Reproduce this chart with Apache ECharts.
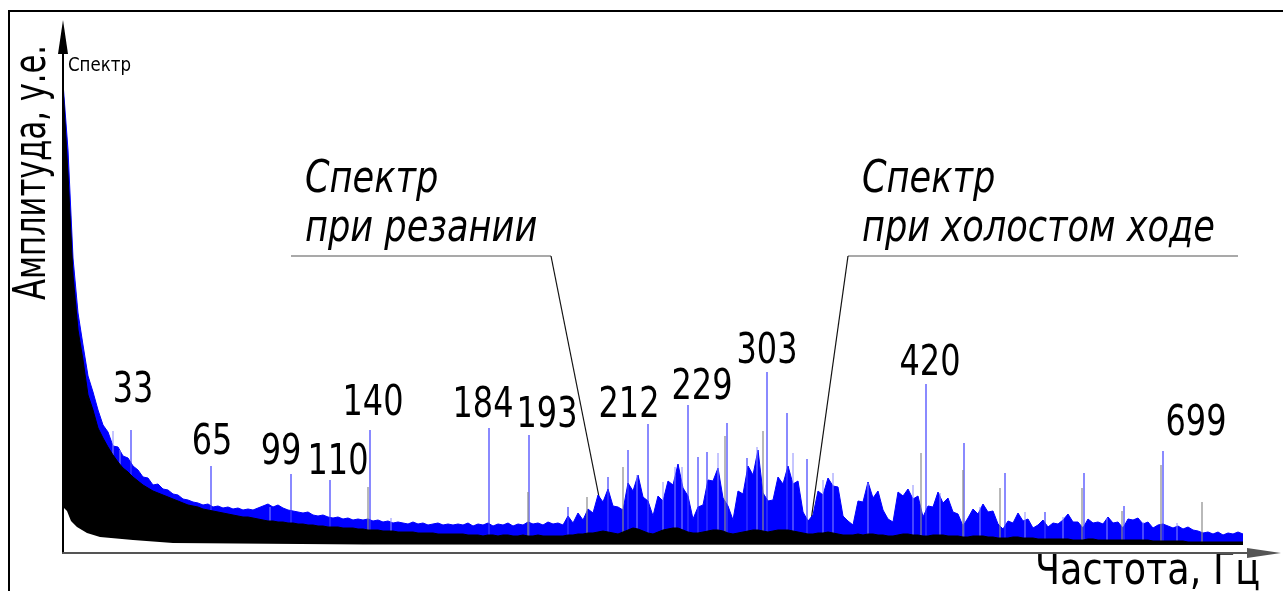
<!DOCTYPE html>
<html>
<head>
<meta charset="utf-8">
<script src="https://cdn.jsdelivr.net/npm/echarts@6/dist/echarts.min.js"></script>
<style>
  html, body { margin: 0; padding: 0; background: #fff; }
  #chart { width: 1283px; height: 591px; }
</style>
</head>
<body>
<div id="chart"></div>
<script>
// ---- spectrum data (amplitude in arbitrary units, x in spectrum bins) ----
const STEP = 5; // spacing of the envelope samples, bins

// upper envelope of the spectrum while cutting
const cutTop = [
  94, 80.6, 59, 48, 41.6, 35.4, 32.2, 28.6, 25.6, 24.2, 21.4, 21.2, 19.4, 19, 17.4, 16.6, 15.2, 15, 13.6, 13.8,
  12.8, 12.6, 11.8, 11.6, 10.8, 10.6, 10.2, 10, 9.6, 9.8, 9.2, 9.4, 9, 9.2, 8.8, 9, 8.6, 8.8, 8.6, 9,
  9.4, 9.8, 9.2, 9.6, 9, 8.6, 8.4, 8.2, 8, 8.2, 7.6, 7.4, 7.6, 7.2, 7, 7.2, 6.8, 7, 6.6, 6.8,
  6.6, 6.8, 6.4, 6.6, 6.2, 6.4, 6, 6.2, 6, 5.8, 6.2, 5.8, 6, 5.6, 5.8, 6, 5.6, 5.8, 5.6, 5.8,
  5.6, 6, 5.4, 5.8, 5.6, 6, 5.4, 5.8, 5.6, 6, 5.4, 5.8, 5.6, 6.2, 5.8, 6, 5.6, 6.2, 5.8, 6,
  5.6, 7.4, 6, 8, 6.6, 8.8, 8, 11.6, 10.2, 12.8, 9.4, 9.2, 8.6, 14, 12.4, 15.6, 11.2, 10.4, 7.4, 11.4,
  10.4, 14.4, 13.6, 17.8, 13, 11.4, 6.8, 9.2, 9.6, 14.6, 14.4, 17, 11, 9.4, 6.6, 12.4, 11.8, 17.4, 15.6, 20.6,
  12, 10.4, 10.6, 15.2, 13.8, 17.4, 13.8, 14.4, 8.2, 6.4, 7.6, 12.4, 11.6, 15, 13.4, 13.2, 7.4, 6.4, 5.6, 10.4,
  10.2, 14.2, 11, 12.4, 8.6, 6.8, 6.2, 12.2, 11.4, 12.8, 10.8, 11.4, 7.2, 9.4, 9.2, 12.2, 10, 11, 8.2, 7.8,
  5.4, 7, 8.8, 7.8, 9.8, 8.2, 8.4, 5.8, 4.8, 6.4, 6, 8, 6.4, 6.8, 5, 5.6, 6.6, 5.2, 6, 5.8,
  6.6, 7.8, 6.2, 6.2, 5, 6.8, 6, 6.2, 5.8, 7.2, 6, 6.2, 5, 6.8, 6.6, 7, 5.8, 6.2, 5, 5.6,
  5.8, 5.4, 5, 5.4, 4.8, 5.2, 4.6, 4.4, 4, 4.2, 3.8, 4.2, 3.6, 4, 3.8, 4.2, 3.8
];

// upper envelope of the spectrum at idle run
const idleTop = [
  93.2, 75.6, 55.6, 44.6, 38.6, 31.6, 28.6, 25, 23, 21.2, 19.6, 18.2, 17, 16.2, 15.2, 14.4, 13.6, 13, 12.4, 12,
  11.6, 11.2, 10.8, 10.4, 10, 9.6, 9.4, 9.2, 8.8, 8.6, 8.4, 8.2, 8, 7.8, 7.6, 7.4, 7.2, 7.2, 7, 6.8,
  6.6, 6.4, 6.4, 6.2, 6.2, 6, 6, 5.8, 5.8, 5.6, 5.6, 5.4, 5.4, 5.2, 5.2, 5.2, 5, 5, 5, 4.8,
  4.8, 4.6, 4.6, 4.6, 4.4, 4.4, 4.4, 4.2, 4.2, 4.2, 4.2, 4, 4, 4, 4, 3.8, 3.8, 3.8, 3.8, 3.8,
  3.8, 3.6, 3.6, 3.6, 3.4, 3.6, 3.6, 3.4, 3.6, 3.6, 3.4, 3.4, 3.6, 3.4, 3.4, 3.6, 3.4, 3.4, 3.4, 3.4,
  3.4, 3.6, 3.6, 3.8, 3.8, 4, 4, 4.2, 4.4, 4.2, 4, 3.8, 4.2, 4.6, 5, 4.8, 4.4, 4, 3.8, 4.2,
  4.6, 4.8, 5, 5, 4.6, 4.2, 4, 4, 4.2, 4.4, 4.6, 4.6, 4.4, 4, 3.8, 4, 4.2, 4.4, 4.6, 4.6,
  4.4, 4.2, 4.4, 4.6, 4.6, 4.6, 4.4, 4.2, 4, 3.8, 3.8, 4, 4, 4.2, 4, 3.8, 3.6, 3.6, 3.6, 3.8,
  3.6, 3.8, 3.8, 3.6, 3.6, 3.4, 3.4, 3.6, 3.8, 3.8, 3.6, 3.6, 3.4, 3.4, 3.6, 3.6, 3.6, 3.4, 3.4, 3.4,
  3.2, 3.2, 3.4, 3.4, 3.4, 3.2, 3.2, 3, 3, 3, 3.2, 3.2, 3, 3, 3, 2.8, 2.8, 2.8, 2.8, 2.8,
  2.8, 2.8, 2.6, 2.6, 2.6, 2.8, 2.8, 2.6, 2.6, 2.6, 2.6, 2.6, 2.6, 2.6, 2.6, 2.6, 2.6, 2.6, 2.4, 2.4,
  2.4, 2.4, 2.4, 2.4, 2.4, 2.2, 2.2, 2.2, 2.2, 2.2, 2.2, 2.2, 2.2, 2.2, 2.2, 2.2, 2.2
];

// lower envelope (noise floor) shared by both spectra
const floorBins = [0, 4, 8, 14, 24, 37, 70, 110, 300, 1180];
const floorAmp  = [9.2, 8.4, 6.4, 5.2, 4, 3.2, 2.6, 2, 1.7, 1.6];

// discrete harmonic lines while cutting
const cutLineBins = [68, 148, 228, 267, 307, 426, 466, 505, 545, 565, 585, 625, 635, 644, 664, 684, 704, 724, 744, 863, 901, 942, 982, 1021, 1061, 1100];
const cutLineAmp  = [24.6, 17.4, 15.8, 14.6, 24.6, 25, 23.6, 9.2, 15.2, 20.6, 25.8, 29.6, 19.2, 20.2, 26, 19, 36.2, 28, 18.8, 33.8, 22, 16, 8.2, 16, 9.4, 20.4];
const cutLineName = ['33', '65', '99', '110', '140', '184', '193', '', '', '', '212', '229', '', '', '', '', '303', '', '', '420', '', '', '', '', '', '699'];

// weaker lines standing out of the cutting noise
const cutHairBins = [50, 57, 207, 328, 574, 600, 612, 619, 655, 694, 730, 760, 770, 805, 850, 877, 917, 962, 1000, 1044, 1080, 1114];
const cutHairAmp  = [24.4, 20.6, 9.2, 7, 15.6, 14.2, 17.2, 17.2, 20, 21.2, 20, 14.6, 16, 14, 13.6, 12, 9.2, 8.2, 7.2, 7, 6.2, 6];

// discrete harmonic lines at idle run
const idleLineBins = [305, 465, 524, 560, 662, 700, 858, 900, 937, 1019, 1059, 1098, 1139];
const idleLineAmp  = [13.2, 12.2, 11.2, 17.2, 23.4, 24.4, 20, 16.6, 13, 13, 8.4, 17.6, 10.2];

// call-out captions and the spectrum points they point at
const calloutText = ['Спектр\nпри резании', 'Спектр\nпри холостом ходе'];
const calloutAt   = [[539, 8.2], [747, 5]];

const axisNameY = 'Амплитуда, у.е.';
const axisNameX = 'Частота, Гц';
const axisTag   = 'Спектр';

// ---- styling ----
const FONT = '"DejaVu Sans Condensed", "DejaVu Sans", sans-serif';
const BLUE = '#0000ff';
const LINE_BASE = 1.6;
// caption placement relative to the top of its line: [dx, dy] in px
const labelShift = {
  '33': [2, -18], '65': [1, -2], '99': [-10, 0], '110': [8, 4], '140': [3, -5],
  '184': [-6, -1], '193': [18, 2], '212': [-19, 3], '229': [14, 4], '303': [0, 1],
  '420': [4, 1], '699': [33, -6]
};

// horizontal squeeze so a text run spans the wanted width (drawing-type lettering is narrow)
const measureCtx = document.createElement('canvas').getContext('2d');
function squeeze(text, font, width) {
  measureCtx.font = font;
  return width / measureCtx.measureText(text).width;
}

const CAPTION_FONT = '42px ' + FONT;
const CAPTION_SX = squeeze('303', CAPTION_FONT, 61);

const env = (vals) => vals.map((v, i) => [i * STEP, v]);
const captionItems = cutLineBins
  .map((b, i) => ({ value: [b, cutLineAmp[i]], name: cutLineName[i] }))
  .filter(d => d.name);

function lineSeries(bins, amps, color, width, z) {
  return {
    type: 'custom', z, silent: true,
    data: bins.map((b, i) => [b, amps[i]]),
    renderItem(params, api) {
      const top = api.coord([api.value(0), api.value(1)]);
      const bot = api.coord([api.value(0), LINE_BASE]);
      return {
        type: 'line',
        shape: { x1: top[0], y1: top[1], x2: bot[0], y2: bot[1] },
        style: { stroke: color, lineWidth: width }
      };
    }
  };
}

const chart = echarts.init(document.getElementById('chart'), null, { renderer: 'canvas' });

chart.setOption({
  animation: false,
  backgroundColor: '#fff',
  grid: { left: 63, right: 19, top: 37, bottom: 38 },
  xAxis: {
    type: 'value', min: 0, max: 1201, z: 10,
    axisLine: { show: true, symbol: ['none', 'triangle'], symbolSize: [10, 34],
      lineStyle: { color: '#555', width: 2 } },
    axisTick: { show: false }, axisLabel: { show: false }, splitLine: { show: false }
  },
  yAxis: {
    type: 'value', min: 0, max: 103.2, z: 10,
    axisLine: { show: true, symbol: ['none', 'triangle'], symbolSize: [10, 34],
      lineStyle: { color: '#000', width: 2 } },
    axisTick: { show: false }, axisLabel: { show: false }, splitLine: { show: false }
  },
  series: [
    {
      name: 'cut', type: 'line', z: 2, showSymbol: false, symbol: 'none',
      data: env(cutTop),
      lineStyle: { color: BLUE, width: 1 },
      areaStyle: { color: BLUE, opacity: 1 }
    },
    lineSeries(cutHairBins, cutHairAmp, '#8c8cff', 1, 3),
    lineSeries(cutLineBins, cutLineAmp, '#3c3cff', 1.2, 3),
    lineSeries(idleLineBins, idleLineAmp, '#8a8a8a', 1.2, 3),
    {
      name: 'idle', type: 'line', z: 4, showSymbol: false, symbol: 'none',
      data: env(idleTop),
      lineStyle: { color: '#000', width: 1 },
      areaStyle: { color: '#000', opacity: 1 }
    },
    {
      name: 'floor', type: 'line', z: 5, showSymbol: false, symbol: 'none',
      data: floorBins.map((b, i) => [b, floorAmp[i]]),
      lineStyle: { width: 0, opacity: 0 },
      areaStyle: { color: '#fff', opacity: 1 }
    },
    {
      name: 'captions', type: 'custom', z: 6, silent: true,
      data: captionItems,
      renderItem(params, api) {
        const name = captionItems[params.dataIndex].name;
        const p = api.coord([api.value(0), api.value(1)]);
        const s = labelShift[name] || [0, 0];
        return {
          type: 'text', x: p[0] + s[0], y: p[1] + s[1], scaleX: CAPTION_SX,
          style: { text: name, font: CAPTION_FONT, fill: '#000', align: 'center', verticalAlign: 'bottom' }
        };
      }
    }
  ]
});

// call-outs, axis captions and frame
const anchor = calloutAt.map(p => chart.convertToPixel({ gridIndex: 0 }, p));
const shelf = [[291, 551], [848, 1238]];
const NOTE_FONT = 'italic 44px ' + FONT;
const NOTE_SX = squeeze('при холостом ходе', NOTE_FONT, 353);
const YNAME_FONT = '44px ' + FONT;
const XNAME_FONT = '44px ' + FONT;
const TAG_FONT = '20px ' + FONT;

const graphic = [
  { type: 'polyline', shape: { points: [[9, 591], [9, 11], [1283, 11]] },
    style: { stroke: '#000', lineWidth: 2, fill: null } },
  { type: 'text', x: 12, y: 300, rotation: Math.PI / 2, scaleX: squeeze(axisNameY, YNAME_FONT, 255),
    style: { text: axisNameY, font: YNAME_FONT, fill: '#000', align: 'left', verticalAlign: 'top' } },
  { type: 'text', x: 68, y: 56, scaleX: squeeze(axisTag, TAG_FONT, 63),
    style: { text: axisTag, font: TAG_FONT, fill: '#000', align: 'left', verticalAlign: 'top' } },
  { type: 'text', x: 1035, y: 551, scaleX: squeeze(axisNameX, XNAME_FONT, 225),
    style: { text: axisNameX, font: XNAME_FONT, fill: '#000', align: 'left', verticalAlign: 'top' } }
];
calloutText.forEach((t, i) => {
  const [a, b] = shelf[i];
  const knee = i === 0 ? b : a;
  graphic.push({ type: 'text', x: (i === 0 ? 305 : 862), y: 156, scaleX: NOTE_SX,
    style: { text: t, font: NOTE_FONT, fill: '#000', lineHeight: 49, align: 'left', verticalAlign: 'top' } });
  graphic.push({ type: 'line', shape: { x1: a, y1: 256, x2: b, y2: 256 },
    style: { stroke: '#555', lineWidth: 1.2 } });
  graphic.push({ type: 'line', shape: { x1: knee, y1: 256, x2: anchor[i][0], y2: anchor[i][1] },
    style: { stroke: '#111', lineWidth: 1.2 } });
});
graphic.push({ type: 'circle', shape: { cx: anchor[0][0], cy: anchor[0][1], r: 5 }, style: { fill: '#000' } });
chart.setOption({ graphic });
</script>
</body>
</html>
